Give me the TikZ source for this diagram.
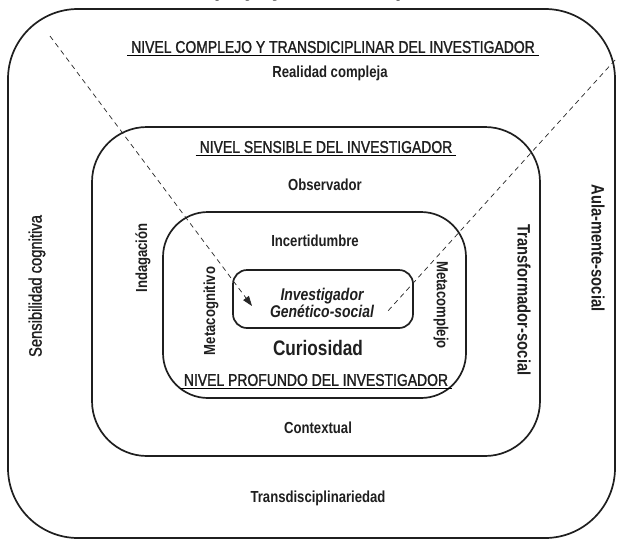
\documentclass[tikz,border=0pt]{standalone}
\usepackage{fontspec}
\setmainfont{Liberation Sans}[FakeStretch=0.82]
\usetikzlibrary{arrows.meta}
\begin{document}
\begin{tikzpicture}[x=1pt,y=-1pt,
  level/.style={draw=black!88,line width=1.7pt},
  lbl/.style={inner sep=0pt,font=\fontsize{16}{18}\selectfont\bfseries,text=black!88},
  hdr/.style={inner sep=0pt,font=\fontsize{17}{19}\selectfont\addfontfeature{FakeBold=1.4},text=black!88},
  sideup/.style={lbl,rotate=90},
  sidedown/.style={lbl,rotate=-90},
  guide/.style={draw=black!85,line width=0.7pt,dash pattern=on 5pt off 4pt}]
\useasboundingbox (0,0) rectangle (620,541);
\fill[white] (0,0) rectangle (620,541);

% title running off the top edge
\node[lbl,anchor=base,font=\fontsize{27}{29}\selectfont\bfseries] (title) at (320,-5) {Complejo y transdisciplinario};

% nested levels
\draw[level,rounded corners=70pt] (8,9) rectangle (615,538);
\draw[level,rounded corners=55pt] (92,127) rectangle (540,456);
\draw[level,rounded corners=45pt] (163,212) rectangle (466,398);
\draw[level,rounded corners=14pt] (233,270) rectangle (413,328);

% headers
\node[hdr] (h1) at (333,47) {NIVEL COMPLEJO Y TRANSDICIPLINAR DEL INVESTIGADOR};
\draw[line width=1pt] ([xshift=-4pt,yshift=-2pt]h1.south west) -- ([xshift=4pt,yshift=-2pt]h1.south east);
\node[hdr] (h2) at (326,147) {NIVEL SENSIBLE DEL INVESTIGADOR};
\draw[line width=1pt] ([xshift=-4pt,yshift=-2pt]h2.south west) -- ([xshift=4pt,yshift=-2pt]h2.south east);
\node[hdr] (h3) at (316,380) {NIVEL PROFUNDO DEL INVESTIGADOR};
\draw[line width=1pt] ([xshift=-4pt,yshift=-2pt]h3.south west) -- ([xshift=4pt,yshift=-2pt]h3.south east);

% labels
\node[lbl] (realidad) at (330,73) {Realidad compleja};
\node[lbl] (obs) at (325,185) {Observador};
\node[lbl] (incert) at (315,241) {Incertidumbre};
\node[lbl,font=\fontsize{17}{15}\selectfont\bfseries\itshape,align=center] (inv) at (322,303) {Investigador\\Genético-social};
\node[lbl,font=\fontsize{21}{23}\selectfont\bfseries] (curio) at (318,348) {Curiosidad};
\node[lbl] (ctx) at (318,428) {Contextual};
\node[lbl] (trans) at (318,498) {Transdisciplinariedad};

\node[sideup,font=\fontsize{18}{20}\selectfont\addfontfeature{FakeBold=1.2}] (sens) at (37,286) {Sensibilidad cognitiva};
\node[sideup] (indag) at (143,258) {Indagación};
\node[sideup] (metacog) at (211,311) {Metacognitivo};
\node[sidedown] (metacomp) at (441,305) {Metacomplejo};
\node[sidedown,font=\fontsize{18}{20}\selectfont\bfseries] (transf) at (524,300) {Transformador-social};
\node[sidedown,font=\fontsize{18}{20}\selectfont\bfseries] (aula) at (598,248) {Aula-mente-social};

% dashed guides
\coordinate (lstart) at (50,36);
\coordinate (lend) at (252,306);
\coordinate (rstart) at (615,60);
\coordinate (rend) at (387,312);
\draw[guide,-{Triangle[length=10pt,width=7pt]}] (lstart) -- (lend);
\draw[guide] (rstart) -- (rend);
\end{tikzpicture}
\end{document}
